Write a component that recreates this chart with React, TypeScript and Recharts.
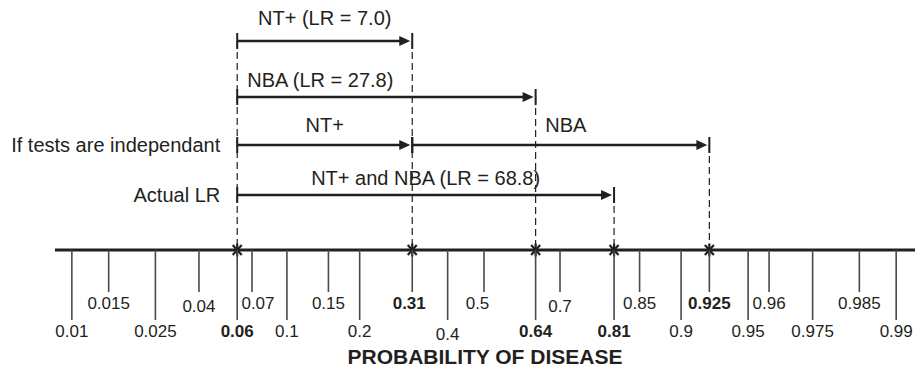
import React from 'react';
import { ComposedChart, XAxis, YAxis, Scatter, ReferenceLine, Label } from 'recharts';

// ---- data ----
const tickProbs = [0.01, 0.015, 0.025, 0.04, 0.06, 0.07, 0.1, 0.15, 0.2, 0.31, 0.4, 0.5, 0.64, 0.7, 0.81, 0.85, 0.9, 0.925, 0.95, 0.96, 0.975, 0.985, 0.99];
const lowerRowTicks = [0.01, 0.025, 0.06, 0.1, 0.2, 0.4, 0.64, 0.81, 0.9, 0.95, 0.975, 0.99];
const boldTicks = [0.06, 0.31, 0.64, 0.81, 0.925];
const rows = ['r1', 'r2', 'r3', 'r4'];
const arrows = [
  { label: 'NT+ (LR = 7.0)', from: 0.06, to: 0.31, row: 'r1' },
  { label: 'NBA (LR = 27.8)', from: 0.06, to: 0.64, row: 'r2' },
  { label: 'NT+', from: 0.06, to: 0.31, row: 'r3' },
  { label: 'NBA', from: 0.31, to: 0.925, row: 'r3' },
  { label: 'NT+ and NBA (LR = 68.8)', from: 0.06, to: 0.81, row: 'r4' },
];
const rowLabels = [
  { label: 'If tests are independant', row: 'r3', at: 0.06 },
  { label: 'Actual LR', row: 'r4', at: 0.06 },
];
const axisTitle = 'PROBABILITY OF DISEASE';

// ---- layout / style ----
const rowLevel: Record<string, number> = { r1: 4.18, r2: 3.06, r3: 2.1, r4: 1.1 };
const arrowLabelStyle = [
  { anchor: 'middle', dx: 0, lift: 16 },
  { anchor: 'start', dx: 10, lift: 10 },
  { anchor: 'middle', dx: 0, lift: 13 },
  { anchor: 'middle', dx: 5, lift: 13 },
  { anchor: 'middle', dx: 0, lift: 10 },
];
const tickLabelAdjust: Record<string, { dx?: number; dy?: number }> = {
  '0.04': { dy: 3 },
  '0.07': { dx: 6 },
  '0.31': { dx: -3 },
  '0.4': { dy: 3 },
  '0.5': { dx: -6.5 },
  '0.7': { dy: 3 },
};
const INK = '#231f20';
const FONT = '"Liberation Sans", Arial, Helvetica, sans-serif';

const logit = (p: number) => Math.log(p / (1 - p));
const invLogit = (l: number) => 1 / (1 + Math.exp(-l));

const tickLogits = tickProbs.map(logit);
const nearestProb = (l: number) => {
  const p = invLogit(l);
  let best = tickProbs[0];
  for (const t of tickProbs) if (Math.abs(t - p) < Math.abs(best - p)) best = t;
  return best;
};

const markerProbs = Array.from(new Set(arrows.flatMap((a) => [a.from, a.to])));
const markerData = markerProbs.map((p) => ({ x: logit(p), y: 0 }));
const dashData = markerProbs.map((p) => {
  const idx = Math.min(
    ...arrows.filter((a) => a.from === p || a.to === p).map((a) => rows.indexOf(a.row))
  );
  return { x: logit(p), top: rowLevel[rows[idx]] };
});

const arrowLabelData = arrows.map((a, i) => {
  const s = arrowLabelStyle[i];
  const x = s.anchor === 'start' ? logit(a.from) : (logit(a.from) + logit(a.to)) / 2;
  return { x, y: rowLevel[a.row], label: a.label, ...s };
});
const rowLabelData = rowLabels.map((r) => ({ x: logit(r.at), y: rowLevel[r.row], label: r.label }));

const AxisTick = (props: any) => {
  const { x, y, payload } = props;
  const p = nearestProb(payload.value);
  const key = String(p);
  const lower = lowerRowTicks.includes(p);
  const adj = tickLabelAdjust[key] || {};
  const len = lower ? 70 : 42;
  const base = lower ? 87 : 59;
  return (
    <g>
      <line x1={x} y1={y} x2={x} y2={y + len} stroke="#4a4a4a" strokeWidth={1.6} />
      <text
        x={x + (adj.dx || 0)}
        y={y + base + (adj.dy || 0)}
        textAnchor="middle"
        fontSize={17}
        fontFamily={FONT}
        fontWeight={boldTicks.includes(p) ? 'bold' : 'normal'}
        fill={INK}
      >
        {key}
      </text>
    </g>
  );
};

const ArrowShape = (props: any) => {
  const { x1, y1, x2, y2 } = props;
  const tip = x2 - 2;
  return (
    <g>
      <line x1={x1} y1={y1} x2={tip - 8} y2={y2} stroke={INK} strokeWidth={2.6} />
      <polygon points={`${tip},${y2} ${tip - 11},${y2 - 5} ${tip - 11},${y2 + 5}`} fill={INK} />
      <line x1={x1} y1={y1 - 8} x2={x1} y2={y1 + 8} stroke={INK} strokeWidth={2} />
      <line x1={x2} y1={y2 - 8} x2={x2} y2={y2 + 8} stroke={INK} strokeWidth={2} />
    </g>
  );
};

const Asterisk = (props: any) => {
  const { cx, cy } = props;
  return (
    <g stroke={INK} strokeWidth={2.2}>
      <line x1={cx - 4.5} y1={cy - 5} x2={cx + 4.5} y2={cy + 5} />
      <line x1={cx - 4.5} y1={cy + 5} x2={cx + 4.5} y2={cy - 5} />
      <line x1={cx} y1={cy - 6.5} x2={cx} y2={cy + 6.5} />
    </g>
  );
};

const ArrowLabel = (props: any) => {
  const { cx, cy, payload } = props;
  return (
    <text x={cx + payload.dx} y={cy - payload.lift} textAnchor={payload.anchor} fontSize={20} fontFamily={FONT} fill={INK}>
      {payload.label}
    </text>
  );
};

const RowLabel = (props: any) => {
  const { cx, cy, payload } = props;
  return (
    <text x={cx - 17} y={cy + 7} textAnchor="end" fontSize={20} fontFamily={FONT} fill={INK}>
      {payload.label}
    </text>
  );
};

export default function App() {
  return (
    <div style={{ position: 'absolute', left: 0, top: 0, background: '#fff' }}>
      <ComposedChart width={920} height={372} margin={{ top: 0, right: 5, bottom: 0, left: 55 }}>
        <XAxis
          type="number"
          dataKey="x"
          domain={[-4.783, 4.805]}
          ticks={tickLogits}
          interval={0}
          height={122}
          tickSize={0}
          tickMargin={0}
          tickLine={false}
          axisLine={{ stroke: INK, strokeWidth: 3 }}
          tick={<AxisTick />}
        >
          <Label
            value={axisTitle}
            position="insideBottom"
            offset={8}
            style={{ fontWeight: 'bold', fontSize: 21, fontFamily: FONT, fill: INK }}
          />
        </XAxis>
        <YAxis type="number" dataKey="y" domain={[0, 5]} hide />
        {dashData.map((d, i) => (
          <ReferenceLine
            key={'d' + i}
            segment={[{ x: d.x, y: d.top }, { x: d.x, y: 0 }]}
            stroke={INK}
            strokeWidth={1.2}
            strokeDasharray="7 4"
            ifOverflow="visible"
          />
        ))}
        {arrows.map((a, i) => (
          <ReferenceLine
            key={'a' + i}
            segment={[{ x: logit(a.from), y: rowLevel[a.row] }, { x: logit(a.to), y: rowLevel[a.row] }]}
            ifOverflow="visible"
            shape={ArrowShape}
          />
        ))}
        <Scatter data={arrowLabelData} shape={ArrowLabel} isAnimationActive={false} />
        <Scatter data={rowLabelData} shape={RowLabel} isAnimationActive={false} />
        <Scatter data={markerData} shape={Asterisk} isAnimationActive={false} />
      </ComposedChart>
    </div>
  );
}
